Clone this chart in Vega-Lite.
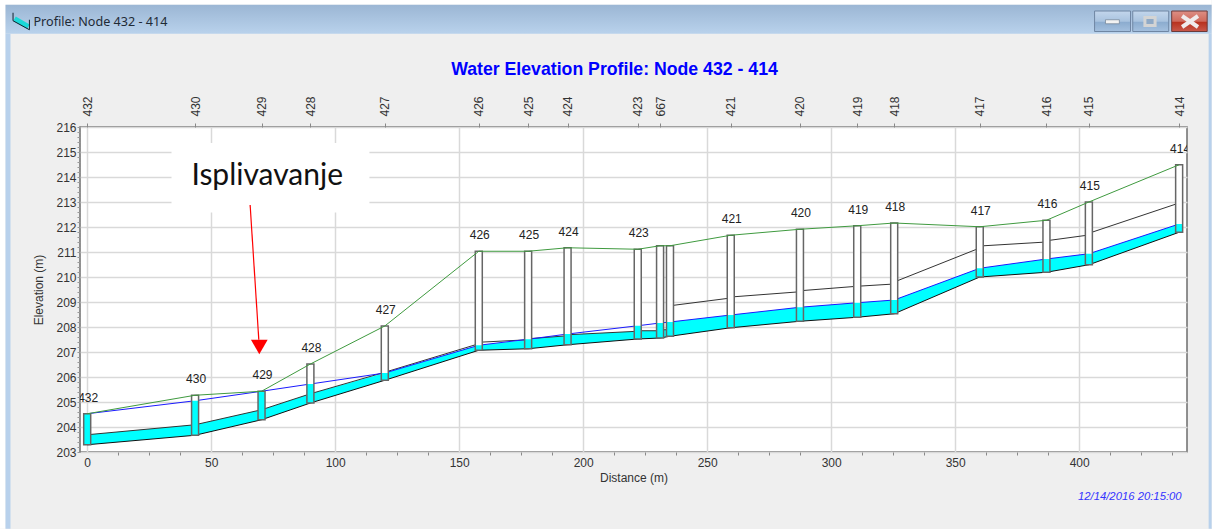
{
"$schema":"https://vega.github.io/schema/vega-lite/v6.json",
"width":1107,"height":325,
"autosize":{"type":"none"},
"padding":{"left":80,"top":127,"right":25,"bottom":77},
"background":"#efefef",
"config":{"view":{"fill":"white","stroke":"#6e6e6e","strokeWidth":1.5},"font":"Liberation Sans"},
"title":{"text":"Water Elevation Profile: Node 432 - 414","anchor":"middle","dx":-19,"offset":-79,"fontSize":17.7,"fontWeight":"bold","color":"#0000ff","font":"Liberation Sans"},
"resolve":{"axis":{"x":"independent","y":"independent"}},
"datasets":{
"nodes":[
{"name":"432","dist":0,"invert":203.29,"water":204.53,"ground":204.53},
{"name":"430","dist":43.5,"invert":203.67,"water":205.05,"ground":205.27},
{"name":"429","dist":70.3,"invert":204.29,"water":205.43,"ground":205.43},
{"name":"428","dist":90,"invert":204.96,"water":205.72,"ground":206.52},
{"name":"427","dist":120,"invert":205.87,"water":206.16,"ground":208.04},
{"name":"426","dist":157.9,"invert":207.07,"water":207.27,"ground":211.03},
{"name":"425","dist":177.8,"invert":207.13,"water":207.51,"ground":211.03},
{"name":"424","dist":193.7,"invert":207.29,"water":207.72,"ground":211.17},
{"name":"423","dist":222,"invert":207.52,"water":208.05,"ground":211.11},
{"name":"","dist":231,"invert":207.56,"water":208.16,"ground":211.25},
{"name":"","dist":235,"invert":207.63,"water":208.2,"ground":211.25},
{"name":"421","dist":259.5,"invert":207.97,"water":208.48,"ground":211.67},
{"name":"420","dist":287.4,"invert":208.23,"water":208.79,"ground":211.91},
{"name":"419","dist":310.5,"invert":208.39,"water":208.97,"ground":212.05},
{"name":"418","dist":325.4,"invert":208.53,"water":209.08,"ground":212.16},
{"name":"417","dist":359.9,"invert":210.0,"water":210.35,"ground":212.01},
{"name":"416","dist":386.8,"invert":210.19,"water":210.72,"ground":212.27},
{"name":"415","dist":403.9,"invert":210.49,"water":210.93,"ground":213.0},
{"name":"414","dist":440.3,"invert":211.79,"water":212.12,"ground":214.49}
],
"links":[
{"link":1,"dist":0,"invert":203.29,"crown":203.69,"top":203.69},{"link":1,"dist":43.5,"invert":203.67,"crown":204.09,"top":204.09},
{"link":2,"dist":43.5,"invert":203.67,"crown":204.09,"top":204.09},{"link":2,"dist":70.3,"invert":204.29,"crown":204.69,"top":204.69},
{"link":3,"dist":70.3,"invert":204.29,"crown":204.69,"top":204.69},{"link":3,"dist":90,"invert":204.96,"crown":205.33,"top":205.33},
{"link":4,"dist":90,"invert":204.96,"crown":205.33,"top":205.33},{"link":4,"dist":120,"invert":205.87,"crown":206.19,"top":206.16},
{"link":5,"dist":120,"invert":205.87,"crown":206.19,"top":206.16},{"link":5,"dist":157.9,"invert":207.07,"crown":207.33,"top":207.27},
{"link":6,"dist":157.9,"invert":207.07,"crown":207.39,"top":207.27},{"link":6,"dist":177.8,"invert":207.13,"crown":207.49,"top":207.49},
{"link":7,"dist":177.8,"invert":207.13,"crown":207.53,"top":207.53},{"link":7,"dist":193.7,"invert":207.29,"crown":207.65,"top":207.65},
{"link":8,"dist":193.7,"invert":207.29,"crown":207.69,"top":207.69},{"link":8,"dist":222,"invert":207.52,"crown":207.83,"top":207.83},
{"link":9,"dist":222,"invert":207.52,"crown":207.85,"top":207.85},{"link":9,"dist":231,"invert":207.56,"crown":207.85,"top":207.85},
{"link":10,"dist":231,"invert":207.56,"crown":207.89,"top":207.89},{"link":10,"dist":235,"invert":207.63,"crown":207.89,"top":207.89},
{"link":11,"dist":235,"invert":207.63,"crown":208.85,"top":208.2},{"link":11,"dist":259.5,"invert":207.97,"crown":209.16,"top":208.48},
{"link":12,"dist":259.5,"invert":207.97,"crown":209.2,"top":208.48},{"link":12,"dist":287.4,"invert":208.23,"crown":209.41,"top":208.79},
{"link":13,"dist":287.4,"invert":208.23,"crown":209.45,"top":208.79},{"link":13,"dist":310.5,"invert":208.39,"crown":209.63,"top":208.97},
{"link":14,"dist":310.5,"invert":208.39,"crown":209.63,"top":208.97},{"link":14,"dist":325.4,"invert":208.53,"crown":209.72,"top":209.08},
{"link":15,"dist":325.4,"invert":208.53,"crown":209.8,"top":209.08},{"link":15,"dist":359.9,"invert":210.0,"crown":211.16,"top":210.35},
{"link":16,"dist":359.9,"invert":210.0,"crown":211.24,"top":210.35},{"link":16,"dist":386.8,"invert":210.19,"crown":211.4,"top":210.72},
{"link":17,"dist":386.8,"invert":210.19,"crown":211.45,"top":210.72},{"link":17,"dist":403.9,"invert":210.49,"crown":211.68,"top":210.93},
{"link":18,"dist":403.9,"invert":210.49,"crown":211.75,"top":210.93},{"link":18,"dist":440.3,"invert":211.79,"crown":212.96,"top":212.12}
],
"frame":[
{"part":"leftWhite","x0":-35.36,"x1":-32.94,"y0":199.93,"y1":221.09},
{"part":"topWhite","x0":-35.36,"x1":453.4,"y0":220.89,"y1":221.09},
{"part":"leftBar","x0":-32.94,"x1":-30.93,"y0":199.93,"y1":219.73},
{"part":"rightBar","x0":452.2,"x1":453.4,"y0":199.93,"y1":219.73}
]
},
"layer":[
{"data":{"name":"frame"},"mark":{"type":"rect"},
 "encoding":{
  "x":{"field":"x0","type":"quantitative","scale":{"domain":[-2.9,443.47],"nice":false,"zero":false,"padding":0},
   "axis":{"orient":"bottom","title":"Distance (m)","titleFont":"Liberation Sans","titleFontSize":12,"titleFontWeight":"normal","titleColor":"#333","titlePadding":4,"domain":false,
    "values":[0,12.5,25,37.5,50,62.5,75,87.5,100,112.5,125,137.5,150,162.5,175,187.5,200,212.5,225,237.5,250,262.5,275,287.5,300,312.5,325,337.5,350,362.5,375,387.5,400,412.5,425,437.5],
    "labelExpr":"datum.value%50==0 ? datum.value : ''","labelOverlap":false,"labelFontSize":12,"labelColor":"#333","labelPadding":2,"labelFlush":false,
    "grid":true,"gridColor":"#d9d9d9","gridWidth":1.5,"gridOpacity":{"condition":{"test":"datum.value%50==0","value":1},"value":0},
    "tickColor":"#888","tickSize":3,"tickOpacity":{"condition":{"test":"datum.value%50==0","value":0},"value":1}}},
  "x2":{"field":"x1"},
  "y":{"field":"y0","type":"quantitative","scale":{"domain":[203,216],"nice":false,"zero":false,"padding":0},
   "axis":{"orient":"left","title":"Elevation (m)","titleFont":"Liberation Sans","titleFontSize":12,"titleFontWeight":"normal","titleColor":"#333","titlePadding":10,"domain":false,
    "values":[203,203.2,203.4,203.6,203.8,204,204.2,204.4,204.6,204.8,205,205.2,205.4,205.6,205.8,206,206.2,206.4,206.6,206.8,207,207.2,207.4,207.6,207.8,208,208.2,208.4,208.6,208.8,209,209.2,209.4,209.6,209.8,210,210.2,210.4,210.6,210.8,211,211.2,211.4,211.6,211.8,212,212.2,212.4,212.6,212.8,213,213.2,213.4,213.6,213.8,214,214.2,214.4,214.6,214.8,215,215.2,215.4,215.6,215.8,216],
    "labelExpr":"abs(datum.value-round(datum.value))<0.01 ? datum.value : ''","labelOverlap":false,"labelFontSize":12,"labelColor":"#333","labelPadding":1,"labelFlush":false,
    "grid":true,"gridColor":"#d9d9d9","gridWidth":1.5,"gridOpacity":{"condition":{"test":"abs(datum.value-round(datum.value))<0.01","value":1},"value":0},
    "tickColor":"#999","tickSize":3}},
  "y2":{"field":"y1"},
  "color":{"field":"part","type":"nominal","legend":null,"scale":{"domain":["leftWhite","topWhite","leftBar","rightBar"],"range":["#ffffff","#ffffff","#b8d1ec","#b8d1ec"]}}
 }},
{"data":{"values":[{"x0":-32.94,"x1":453.4,"y0":219.73,"y1":220.89}]},
 "mark":{"type":"rect","color":{"gradient":"linear","x1":0,"y1":0,"x2":0,"y2":1,"stops":[{"offset":0,"color":"#9bb6d4"},{"offset":1,"color":"#b9d2ec"}]}},
 "encoding":{"x":{"field":"x0","type":"quantitative","axis":null},"x2":{"field":"x1"},"y":{"field":"y0","type":"quantitative","axis":null},"y2":{"field":"y1"}}},
{"data":{"values":[{"x0":406.2,"x1":420.7,"y0":219.82,"y1":220.64},{"x0":421.6,"x1":436.1,"y0":219.82,"y1":220.64}]},
 "mark":{"type":"rect","color":{"gradient":"linear","x1":0,"y1":0,"x2":0,"y2":1,"stops":[{"offset":0,"color":"#c3d6ec"},{"offset":0.5,"color":"#a9c3df"},{"offset":0.55,"color":"#8caccf"},{"offset":1,"color":"#a4c0de"}]},"stroke":"#6f86a3","strokeWidth":1},
 "encoding":{"x":{"field":"x0","type":"quantitative","axis":null},"x2":{"field":"x1"},"y":{"field":"y0","type":"quantitative","axis":null},"y2":{"field":"y1"}}},
{"data":{"values":[{"x0":437.3,"x1":451.6,"y0":219.82,"y1":220.64}]},
 "mark":{"type":"rect","color":{"gradient":"linear","x1":0,"y1":0,"x2":0,"y2":1,"stops":[{"offset":0,"color":"#dd8f85"},{"offset":0.5,"color":"#cf6a5c"},{"offset":0.55,"color":"#b8321f"},{"offset":1,"color":"#c9584a"}]},"stroke":"#6a3a3a","strokeWidth":1},
 "encoding":{"x":{"field":"x0","type":"quantitative","axis":null},"x2":{"field":"x1"},"y":{"field":"y0","type":"quantitative","axis":null},"y2":{"field":"y1"}}},
{"data":{"values":[{"x0":410.6,"x1":416.2,"y0":220.13,"y1":220.29}]},
 "mark":{"type":"rect","color":"#f2f2f2","stroke":"#6f7f92","strokeWidth":0.7},
 "encoding":{"x":{"field":"x0","type":"quantitative","axis":null},"x2":{"field":"x1"},"y":{"field":"y0","type":"quantitative","axis":null},"y2":{"field":"y1"}}},
{"data":{"values":[{"x0":426.5,"x1":430.6,"y0":220.06,"y1":220.38}]},
 "mark":{"type":"rect","fill":"#8fa9c6","stroke":"#d4d4d4","strokeWidth":3},
 "encoding":{"x":{"field":"x0","type":"quantitative","axis":null},"x2":{"field":"x1"},"y":{"field":"y0","type":"quantitative","axis":null},"y2":{"field":"y1"}}},
{"data":{"values":[{"s":1,"x":441.5,"y":220.44},{"s":1,"x":447.9,"y":220.0},{"s":2,"x":447.9,"y":220.44},{"s":2,"x":441.5,"y":220.0}]},
 "mark":{"type":"line","color":"#f0ecec","strokeWidth":4},
 "encoding":{"x":{"field":"x","type":"quantitative","axis":null},"y":{"field":"y","type":"quantitative","axis":null},"detail":{"field":"s"},"order":{"field":"s"}}},
{"data":{"values":[{"x":-29.3,"y":220.33},{"x":-23.7,"y":220.01}]},
 "mark":{"type":"line","color":"#19d8d8","strokeWidth":5},
 "encoding":{"x":{"field":"x","type":"quantitative","axis":null},"y":{"field":"y","type":"quantitative","axis":null}}},
{"data":{"values":[{"s":1,"i":1,"x":-29.9,"y":220.57},{"s":1,"i":2,"x":-29.9,"y":220.25},{"s":1,"i":3,"x":-23.3,"y":219.89},{"s":1,"i":4,"x":-23.3,"y":220.29}]},
 "mark":{"type":"line","color":"#10202c","strokeWidth":1},
 "encoding":{"x":{"field":"x","type":"quantitative","axis":null},"y":{"field":"y","type":"quantitative","axis":null},"order":{"field":"i"}}},
{"data":{"values":[{"x":-21.65,"y":220.21,"label":"Profile: Node 432 - 414"}]},
 "mark":{"type":"text","align":"left","baseline":"middle","font":"Noto Sans","fontSize":12.6,"color":"#1f2a36"},
 "encoding":{"x":{"field":"x","type":"quantitative","axis":null},"y":{"field":"y","type":"quantitative","axis":null},"text":{"field":"label"}}},
{"data":{"values":[{"x0":34,"x1":113.8,"y0":212.58,"y1":215.36}]},
 "mark":{"type":"rect","color":"#ffffff"},
 "encoding":{"x":{"field":"x0","type":"quantitative","axis":null},"x2":{"field":"x1"},"y":{"field":"y0","type":"quantitative","axis":null},"y2":{"field":"y1"}}},
{"data":{"name":"links"},"mark":{"type":"area","color":"#00ffff"},
 "encoding":{"x":{"field":"dist","type":"quantitative","axis":null},"y":{"field":"invert","type":"quantitative","axis":null},"y2":{"field":"top"},"detail":{"field":"link"}}},
{"data":{"name":"links"},"mark":{"type":"line","color":"#333333","strokeWidth":1},
 "encoding":{"x":{"field":"dist","type":"quantitative","axis":null},"y":{"field":"crown","type":"quantitative","axis":null},"detail":{"field":"link"}}},
{"data":{"name":"links"},"mark":{"type":"line","color":"#111111","strokeWidth":1},
 "encoding":{"x":{"field":"dist","type":"quantitative","axis":null},"y":{"field":"invert","type":"quantitative","axis":null},"detail":{"field":"link"}}},
{"data":{"name":"nodes"},"mark":{"type":"line","color":"#1a1aff","strokeWidth":1},
 "encoding":{"x":{"field":"dist","type":"quantitative","axis":null},"y":{"field":"water","type":"quantitative","axis":null}}},
{"data":{"name":"nodes"},"mark":{"type":"bar","width":7,"fill":"#ffffff"},
 "encoding":{"x":{"field":"dist","type":"quantitative","axis":null},"y":{"field":"invert","type":"quantitative","axis":null},"y2":{"field":"ground"}}},
{"data":{"name":"nodes"},"mark":{"type":"bar","width":7,"fill":"#00ffff"},
 "encoding":{"x":{"field":"dist","type":"quantitative","axis":null},"y":{"field":"invert","type":"quantitative","axis":null},"y2":{"field":"water"}}},
{"data":{"name":"nodes"},"mark":{"type":"bar","width":7,"fillOpacity":0,"stroke":"#666666","strokeWidth":1.5},
 "encoding":{"x":{"field":"dist","type":"quantitative","axis":null},"y":{"field":"invert","type":"quantitative","axis":null},"y2":{"field":"ground"}}},
{"data":{"name":"nodes"},"mark":{"type":"line","color":"#3f9a3f","strokeWidth":1},
 "encoding":{"x":{"field":"dist","type":"quantitative","axis":null},"y":{"field":"ground","type":"quantitative","axis":null}}},
{"data":{"name":"nodes"},"mark":{"type":"text","clip":true,"dy":-16,"dx":1,"baseline":"middle","fontSize":12,"font":"Liberation Sans","color":"#222222"},
 "encoding":{
  "x":{"field":"dist","type":"quantitative",
   "axis":{"orient":"top","title":null,"domain":false,"grid":false,
    "values":[0,43.5,70.3,90,120,157.9,177.8,193.7,222,231,259.5,287.4,310.5,325.4,359.9,386.8,403.9,440.3],
    "labelExpr":"['432','430','429','428','427','426','425','424','423','667','421','420','419','418','417','416','415','414'][indexof([0,43.5,70.3,90,120,157.9,177.8,193.7,222,231,259.5,287.4,310.5,325.4,359.9,386.8,403.9,440.3],datum.value)]",
    "labelOverlap":false,"labelAngle":-90,"labelFontSize":12,"labelColor":"#333","labelPadding":7,"tickColor":"#888","tickSize":4,"labelFlush":false}},
  "y":{"field":"ground","type":"quantitative","axis":null},
  "text":{"field":"name"}}},
{"data":{"values":[{"x":65.7,"y":212.88},{"x":69.2,"y":207.49}]},
 "mark":{"type":"line","color":"#ff0000","strokeWidth":1.2},
 "encoding":{"x":{"field":"x","type":"quantitative","axis":null},"y":{"field":"y","type":"quantitative","axis":null}}},
{"data":{"values":[{"x":69.4,"y":207.2}]},
 "mark":{"type":"point","shape":"triangle-down","filled":true,"color":"#ff0000","opacity":1,"size":280},
 "encoding":{"x":{"field":"x","type":"quantitative","axis":null},"y":{"field":"y","type":"quantitative","axis":null}}},
{"data":{"values":[{"x":72.6,"y":214.05,"label":"Isplivavanje"}]},
 "mark":{"type":"text","font":"Lato","fontSize":30,"baseline":"middle","color":"#111111"},
 "encoding":{"x":{"field":"x","type":"quantitative","axis":null},"y":{"field":"y","type":"quantitative","axis":null},"text":{"field":"label"}}},
{"data":{"values":[{"x":441.3,"y":201.22,"label":"12/14/2016 20:15:00"}]},
 "mark":{"type":"text","align":"right","baseline":"middle","font":"Liberation Sans","fontSize":11.3,"fontStyle":"italic","color":"#3333ff"},
 "encoding":{"x":{"field":"x","type":"quantitative","axis":null},"y":{"field":"y","type":"quantitative","axis":null},"text":{"field":"label"}}}
]
}
